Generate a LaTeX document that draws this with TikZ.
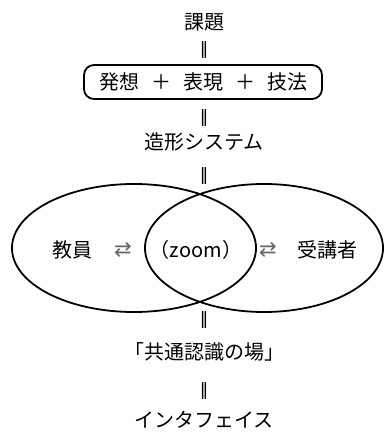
\documentclass[tikz,border=0pt]{standalone}
\usepackage{fontspec}
\setmainfont{Noto Sans CJK JP}
\newfontfamily\arrowfont{DejaVu Sans}
\usetikzlibrary{shapes.geometric}
\begin{document}
\begin{tikzpicture}[x=1pt,y=-1pt,
  font=\fontsize{20}{24}\selectfont,
  txt/.style={inner sep=0pt, anchor=center},
  eqmark/.style={inner sep=0pt, anchor=center, font=\arrowfont\fontsize{17}{20}\selectfont},
  pill/.style={draw, line width=1.8pt, rounded corners=10pt, minimum width=238pt, minimum height=34pt, inner sep=0pt},
  oval/.style={draw, ellipse, line width=1.8pt, inner sep=0pt},
  arr/.style={inner sep=0pt, anchor=center, text=black!60, font=\arrowfont\fontsize{21}{24}\selectfont}
]
\useasboundingbox (0,0) rectangle (384,435);
\node[txt] (kadai) at (204,22) {課題};
\node[eqmark] (e1) at (204,50) {‖};
\node[pill] (box) at (203,82) {発想\hspace{12pt}＋\hspace{12pt}表現\hspace{12pt}＋\hspace{12pt}技法};
\node[eqmark] (e2) at (204,118) {‖};
\node[txt] (zokei) at (204,142) {造形システム};
\node[eqmark] (e3) at (204,176) {‖};
\node[oval, minimum width=244pt, minimum height=128pt] (left) at (134,248) {};
\node[oval, minimum width=238pt, minimum height=128pt] (right) at (264,248) {};
\node[txt] (kyoin) at (72,250) {教員};
\node[arr] (a1) at (123,250) {⇄};
\node[txt] (zoom) at (196,250) {（zoom）};
\node[arr] (a2) at (268,250) {⇄};
\node[txt] (jukou) at (327,250) {受講者};
\node[eqmark] (e4) at (204,320) {‖};
\node[txt] (ba) at (204,352) {「共通認識の場」};
\node[eqmark] (e5) at (204,391) {‖};
\node[txt] (if) at (204,420) {インタフェイス};
\end{tikzpicture}
\end{document}
